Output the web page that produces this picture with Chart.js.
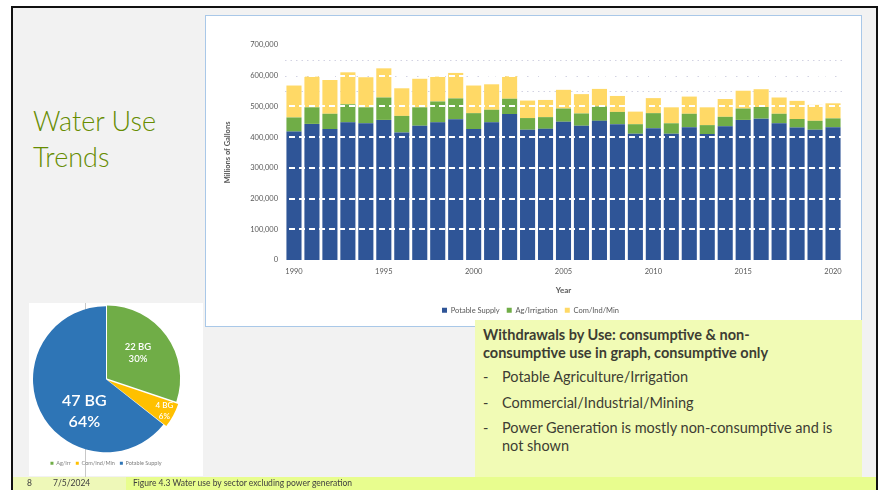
<!DOCTYPE html>
<html>
<head>
<meta charset="utf-8">
<script src="https://cdn.jsdelivr.net/npm/chart.js@4.4.0/dist/chart.umd.min.js"></script>
<style>
  body { margin: 0; width: 878px; height: 490px; background: #fff; position: relative; overflow: hidden; font-family: Lato, "Open Sans", sans-serif; }
  .slide { position: absolute; left: 11px; top: 6px; width: 863px; height: 484px; background: #f2f2f2; border: 2px solid #111; border-bottom: none; }
  .title { position: absolute; left: 33px; top: 103px; font-size: 27px; line-height: 36px; color: #668c00; font-weight: 300; }
  .barbox { position: absolute; left: 205px; top: 15px; width: 655px; height: 310px; background: #fff; border: 1.5px solid #a9c8e8; }
  .piebox { position: absolute; left: 29px; top: 303px; width: 174px; height: 173px; background: #fff; }
  .guide { position: absolute; left: 85px; top: 303px; width: 1px; height: 187px; background: #c8c8c8; }
  .note { position: absolute; left: 475px; top: 320px; width: 387px; height: 164px; background: #f1fbb5; color: #3d3d33; }
  .note h3 { margin: 0; position: absolute; left: 8px; top: 6px; width: 375px; font-size: 14.5px; line-height: 18px; font-weight: 700; }
  .note p { margin: 0; position: absolute; left: 8px; font-size: 14.5px; line-height: 18px; width: 372px; }
  .note p span { position: absolute; left: 0; }
  .note p em { font-style: normal; display: block; margin-left: 19px; }
  .foot1 { position: absolute; left: 13px; top: 477px; width: 113px; height: 13px; background: #eef8b8; }
  .foot2 { position: absolute; left: 126px; top: 477px; width: 750px; height: 13px; background: #e8fd8e; }
  .ft { position: absolute; top: 478px; font-size: 8.5px; color: #404040; }
</style>
</head>
<body>
<div class="slide"></div>
<div class="title">Water Use<br>Trends</div>

<div class="barbox"><canvas id="barChart" width="654" height="309"></canvas></div>

<div class="piebox"></div>
<div class="guide"></div>
<canvas id="pieChart" width="174" height="173" style="position:absolute;left:29px;top:303px;"></canvas>

<div class="note">
  <h3>Withdrawals by Use: consumptive &amp; non-<br>consumptive use in graph, consumptive only</h3>
  <p style="top:48px"><span>-</span><em>Potable Agriculture/Irrigation</em></p>
  <p style="top:74px"><span>-</span><em>Commercial/Industrial/Mining</em></p>
  <p style="top:99px"><span>-</span><em>Power Generation is mostly non-consumptive and is not shown</em></p>
</div>

<div class="foot1"></div>
<div class="foot2"></div>
<div class="ft" style="left:27px">8</div>
<div class="ft" style="left:53px">7/5/2024</div>
<div class="ft" style="left:133px">Figure 4.3 Water use by sector excluding power generation</div>

<script>
// bar chart data (millions of gallons)
var years = [];
for (var y = 1990; y <= 2020; y++) years.push(String(y));

var potable = [418000, 443000, 426000, 448000, 445000, 456000, 415000, 437000, 448000, 458000,
               426000, 448000, 475000, 424000, 427000, 450000, 437000, 453000, 442000, 411000,
               429000, 411000, 432000, 410000, 435000, 456000, 460000, 445000, 431000, 424000, 432000];
var agIrr   = [46000, 54000, 50000, 59000, 52000, 73000, 54000, 60000, 68000, 68000,
               52000, 41000, 50000, 38000, 38000, 43000, 40000, 47000, 40000, 31000,
               49000, 34000, 44000, 29000, 31000, 37000, 38000, 31000, 28000, 29000, 29000];
var comInd  = [104000, 100000, 110000, 104000, 98000, 95000, 90000, 93000, 81000, 83000,
               90000, 83000, 73000, 57000, 56000, 61000, 63000, 57000, 52000, 41000,
               49000, 52000, 56000, 58000, 58000, 58000, 58000, 53000, 59000, 52000, 49000];

// pie chart data (billion gallons)
var pieLabels = ["Ag/Irr", "Com/Ind/Min", "Potable Supply"];
var pieValues = [22, 4, 47];
var piePercent = ["30%", "6%", "64%"];

var grey = "#595959";

//gridlines drawn over and under the bars
var gridLines = {
    id: "gridLines",
    beforeDatasetsDraw: function (chart) {
        var ctx = chart.ctx, ys = chart.scales.y, a = chart.chartArea;
        ctx.save();
        ctx.strokeStyle = "#d2d2e2";
        ctx.lineWidth = 1;
        ctx.setLineDash([1.5, 4]);
        [550000, 600000, 650000].forEach(function (v) {
            var py = Math.round(ys.getPixelForValue(v)) + 0.5;
            ctx.beginPath(); ctx.moveTo(a.left, py); ctx.lineTo(a.right, py); ctx.stroke();
        });
        ctx.restore();
    },
    afterDatasetsDraw: function (chart) {
        var ctx = chart.ctx, ys = chart.scales.y, a = chart.chartArea;
        ctx.save();
        ctx.strokeStyle = "#ffffff";
        ctx.lineWidth = 2;
        ctx.setLineDash([6, 4]);
        [100000, 200000, 300000, 400000, 500000, 600000].forEach(function (v) {
            var py = Math.round(ys.getPixelForValue(v));
            ctx.beginPath(); ctx.moveTo(a.left + 4, py); ctx.lineTo(a.right, py); ctx.stroke();
        });
        ctx.restore();
    }
};

new Chart("barChart", {
    type: "bar",
    data: {
        labels: years,
        datasets: [
            { label: "Potable Supply", data: potable, backgroundColor: "#2f5597" },
            { label: "Ag/Irrigation", data: agIrr, backgroundColor: "#70ad47" },
            { label: "Com/Ind/Min", data: comInd, backgroundColor: "#ffd966" }
        ]
    },
    options: {
        responsive: false,
        animation: false,
        barPercentage: 0.84,
        categoryPercentage: 1,
        layout: { padding: { left: 13, right: 18, top: 29, bottom: 1 } },
        plugins: {
            legend: {
                position: "bottom",
                labels: { boxWidth: 5, boxHeight: 5, padding: 7, color: grey, font: { family: "Lato", size: 7.5 } }
            },
            tooltip: { enabled: false }
        },
        scales: {
            x: {
                stacked: true,
                grid: { display: false, drawTicks: false },
                border: { display: false },
                ticks: {
                    color: grey, font: { family: "Lato", size: 7.5 }, autoSkip: false, maxRotation: 0, padding: 7,
                    callback: function (v, i) { return (1990 + i) % 5 === 0 ? years[i] : ""; }
                },
                title: { display: true, text: "Year", color: grey, font: { family: "Lato", size: 8, weight: "bold" }, padding: { top: 3, bottom: 4 } }
            },
            y: {
                stacked: true,
                min: 0, max: 700000,
                grid: { display: false, drawTicks: false },
                border: { display: false },
                ticks: {
                    stepSize: 100000, color: grey, font: { family: "Lato", size: 7.5 }, padding: 7,
                    callback: function (v) { return v.toLocaleString("en-US"); }
                },
                title: { display: true, text: "Millions of Gallons", color: grey, font: { family: "Lato", size: 7.5, weight: "bold" } },
                afterFit: function (scale) { scale.width = 66; }
            }
        }
    },
    plugins: [gridLines]
});

// labels inside the pie slices
var pieText = {
    id: "pieText",
    afterDatasetsDraw: function (chart) {
        var ctx = chart.ctx;
        var spots = [
            { frac: 0.46, rf: 0.5, size: 9.5 },
            { frac: 0.5, rf: 0.8, size: 8 },
            { frac: 0.37, rf: 0.53, size: 16 }
        ];
        chart.getDatasetMeta(0).data.forEach(function (arc, i) {
            var p = arc.getProps(["x", "y", "startAngle", "endAngle", "outerRadius"]);
            var off = arc.options.offset || 0;
            var mid = (p.startAngle + p.endAngle) / 2;
            var bx = p.x + Math.cos(mid) * off, by = p.y + Math.sin(mid) * off;
            var s = spots[i];
            var ang = p.startAngle + s.frac * (p.endAngle - p.startAngle);
            var lx = bx + Math.cos(ang) * s.rf * p.outerRadius;
            var ly = by + Math.sin(ang) * s.rf * p.outerRadius;
            ctx.save();
            ctx.fillStyle = "#ffffff";
            ctx.textAlign = "center";
            ctx.textBaseline = "middle";
            ctx.font = "600 " + s.size + "px Lato";
            ctx.fillText(pieValues[i] + " BG", lx, ly - s.size * 0.65);
            ctx.fillText(piePercent[i], lx, ly + s.size * 0.65);
            ctx.restore();
        });
    }
};

new Chart("pieChart", {
    type: "pie",
    data: {
        labels: pieLabels,
        datasets: [{
            data: pieValues,
            backgroundColor: ["#70ad47", "#ffc000", "#2e75b6"],
            borderWidth: 0,
            offset: [5, 8, 0]
        }]
    },
    options: {
        responsive: false,
        animation: false,
        radius: 73,
        layout: { padding: { left: 2, right: 22, top: 0, bottom: 0 } },
        plugins: {
            legend: {
                position: "bottom",
                labels: { boxWidth: 3, boxHeight: 3, padding: 5, color: "#7f7f7f", font: { family: "Lato", size: 5.5 } }
            },
            tooltip: { enabled: false }
        }
    },
    plugins: [pieText]
});
</script>
</body>
</html>
